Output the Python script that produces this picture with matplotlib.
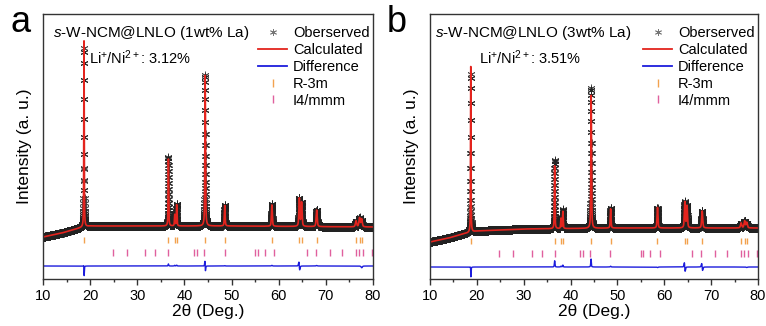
import numpy as np
import matplotlib.pyplot as plt
from matplotlib.lines import Line2D

plt.rcParams["font.family"] = ["Liberation Sans", "DejaVu Sans"]
plt.rcParams["mathtext.fontset"] = "custom"
plt.rcParams["mathtext.rm"] = "Liberation Sans"
plt.rcParams["mathtext.it"] = "Liberation Sans:italic"

# Bragg positions (2theta, deg)
r3m_pos = [18.7, 36.6, 37.95, 38.35, 44.4, 48.55, 58.55, 64.35, 64.85, 68.05, 76.4, 77.15, 77.6]
i4_pos = [24.8, 27.8, 31.7, 33.8, 36.6, 42.0, 42.6, 44.2, 48.5, 55.0, 55.5, 57.0, 59.1,
          65.9, 67.9, 70.9, 73.4, 76.4, 77.1, 77.9, 79.7]

# observed peak heights above background (a.u.), panel a / panel b
peak_pos = [18.7, 36.6, 37.95, 38.35, 44.4, 48.55, 58.55, 64.35, 64.85, 68.05, 76.4, 77.15, 77.6]
peak_fwhm = [0.12, 0.15, 0.16, 0.16, 0.17, 0.19, 0.22, 0.24, 0.24, 0.26, 0.3, 0.3, 0.3]
obs_a = [179, 69, 12, 22, 151, 21, 22, 28, 24, 17, 6, 9, 6]
obs_b = [158, 69, 11, 19, 140, 20, 20, 26, 22, 17, 5, 7, 5]
# calculated / observed ratio and calc position offset
calc_ratio_a = [1.04, 0.97, 0.94, 0.96, 1.0, 0.98, 0.97, 1.0, 1.0, 0.97, 1.0, 1.0, 1.3]
calc_ratio_b = [1.05, 0.91, 0.92, 0.9, 0.95, 0.96, 1.03, 1.0, 1.0, 1.0, 1.0, 1.0, 1.1]
calc_shift_a = [0.002, 0, 0, 0, 0.004, 0, 0, 0.025, 0, 0, 0, 0, 0]
calc_shift_b = [0.002, 0, 0, 0, 0.002, 0, 0, 0.03, 0, 0.04, 0, 0, 0]

# background knots (2theta, a.u.)
bg_x_a = [10, 14, 17, 18.5, 20, 30, 50, 80]
bg_y_a = [42, 46, 50, 52, 53, 53, 53, 52]
bg_x_b = [10, 14, 17, 20, 25, 30, 50, 80]
bg_y_b = [37, 41, 45, 48, 49, 50, 51, 51]

labels = ["$\\mathit{s}$-W-NCM@LNLO (1wt% La)", "$\\mathit{s}$-W-NCM@LNLO (3wt% La)"]
ratios = ["Li$^{+}$/Ni$^{2+}$: 3.12%", "Li$^{+}$/Ni$^{2+}$: 3.51%"]

RED = "#e3241e"
BLUE = "#1c1cdc"
ORANGE = "#f2a24e"
PINK = "#e0609e"


def profile(tt, pos, hts, fwhm, shift):
    y = np.zeros_like(tt)
    for p, h, w, s in zip(pos, hts, fwhm, shift):
        d = tt - (p + s)
        lor = 1.0 / (1.0 + (2 * d / w) ** 2)
        gau = np.exp(-4 * np.log(2) * (d / w) ** 2)
        y += h * (0.5 * lor + 0.5 * gau)
    return y


tt = np.arange(10, 80.0001, 0.01)

fig = plt.figure(figsize=(7.66, 3.26), dpi=100)
ax_a = fig.add_axes([43 / 766, 1 - 279 / 326, 330 / 766, 265 / 326])
ax_b = fig.add_axes([430 / 766, 1 - 279 / 326, 328 / 766, 265 / 326])

panels = [
    (ax_a, obs_a, calc_ratio_a, calc_shift_a, bg_x_a, bg_y_a, 13, 39, 27),
    (ax_b, obs_b, calc_ratio_b, calc_shift_b, bg_x_b, bg_y_b, 12, 38, 26),
]

for i, (ax, obs_h, ratio, shift, bgx, bgy, diff0, r3m_y, i4_y) in enumerate(panels):
    bg = np.interp(tt, bgx, bgy)
    obs = bg + profile(tt, peak_pos, obs_h, peak_fwhm, [0] * len(peak_pos))
    calc_h = [h * r for h, r in zip(obs_h, ratio)]
    calc = bg + profile(tt, peak_pos, calc_h, peak_fwhm, shift)
    diff = obs - calc + diff0

    ax.plot(tt, obs, linestyle="none", marker=(6, 2, 0), markersize=5.5,
            markeredgewidth=0.6, color="#222222", alpha=0.8)
    ax.plot(tt, calc, color=RED, linewidth=1.2)
    ax.plot(tt, diff, color=BLUE, linewidth=1.0)
    ax.vlines(r3m_pos, r3m_y - 3, r3m_y + 3, color=ORANGE, linewidth=1.0)
    ax.vlines(i4_pos, i4_y - 3.5, i4_y + 3.5, color=PINK, linewidth=1.0)

    ax.set_xlim(10, 80)
    ax.set_ylim(0, 265)
    ax.set_xticks(np.arange(10, 81, 10))
    ax.set_xticks(np.arange(15, 80, 10), minor=True)
    ax.set_yticks([])
    ax.tick_params(axis="x", which="major", length=4, width=1, labelsize=10.5,
                   color="#333333", pad=3)
    ax.tick_params(axis="x", which="minor", length=2.5, width=1, color="#333333")
    for sp in ax.spines.values():
        sp.set_color("#333333")
        sp.set_linewidth(1.0)
    ax.set_xlabel("2\u03b8 (Deg.)", fontsize=12.5, labelpad=1)
    ax.set_ylabel("Intensity (a. u.)", fontsize=12.5, labelpad=8)

    handles = [
        Line2D([], [], linestyle="none", marker=(6, 2, 0), markersize=5,
               markeredgewidth=0.6, color="#777777"),
        Line2D([], [], color=RED, linewidth=1.3),
        Line2D([], [], color=BLUE, linewidth=1.3),
        Line2D([], [], linestyle="none", marker="|", markersize=6, color=ORANGE),
        Line2D([], [], linestyle="none", marker="|", markersize=6, color=PINK),
    ]
    ax.legend(handles, ["Oberserved", "Calculated", "Difference", "R-3m", "I4/mmm"],
              loc="upper right", bbox_to_anchor=(0.99, 0.955), frameon=False,
              fontsize=10.5, handlelength=2.0, handletextpad=0.4, labelspacing=0.2,
              borderpad=0, borderaxespad=0)

    tx = [0.03, 0.015][i]
    lx = [0.14, 0.15][i]
    ax.text(tx, 0.928, labels[i], transform=ax.transAxes, fontsize=11, va="center")
    ax.text(lx, 0.834, ratios[i], transform=ax.transAxes, fontsize=10.5, va="center")

fig.text(10 / 766, 1 - 22 / 326, "a", fontsize=26, va="center")
fig.text(387 / 766, 1 - 22 / 326, "b", fontsize=26, va="center")

fig.savefig("out.png", dpi=100)
